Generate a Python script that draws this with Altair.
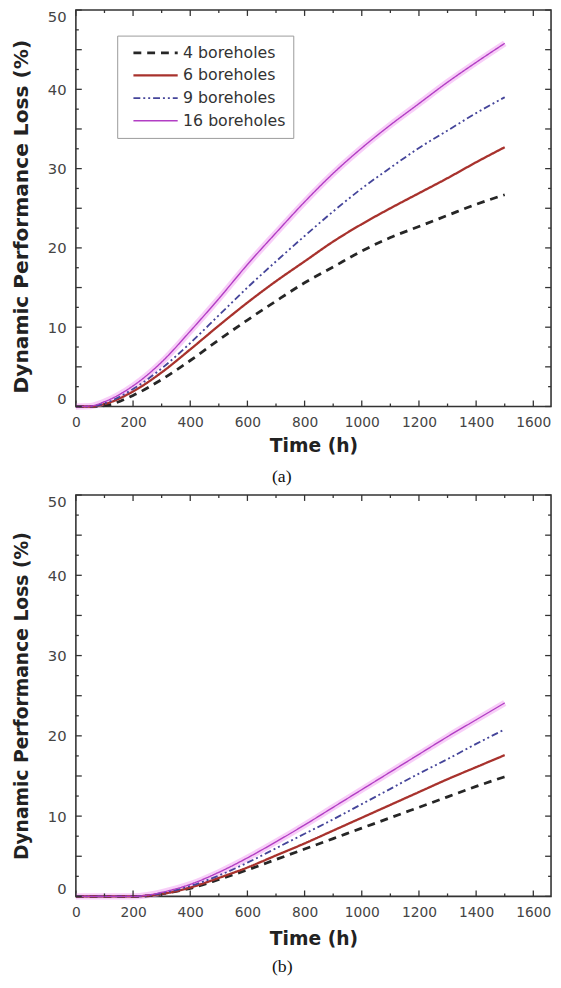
import altair as alt
import pandas as pd

SERIES = ["4 boreholes", "6 boreholes", "9 boreholes", "16 boreholes"]
COLORS = ["#262626", "#a8322d", "#45459a", "#b23ec4"]
DASHES = [[8, 6], [1, 0], [7, 3, 2, 3, 2, 3], [1, 0]]
WIDTHS = [2.8, 1.4, 2.4, 2.6]

# Panel (a)
TIME_A = [0, 50, 100, 200, 300, 400, 500, 600, 700, 800, 900, 1000, 1100, 1200, 1300, 1400, 1500]
A_4 = [0, 0, 0.1, 1.4, 3.4, 5.8, 8.4, 10.9, 13.3, 15.6, 17.6, 19.6, 21.3, 22.7, 24.1, 25.5, 26.7]
A_6 = [0, 0, 0.3, 1.9, 4.3, 7.2, 10.2, 13.1, 15.8, 18.3, 20.8, 23.0, 25.0, 26.9, 28.8, 30.8, 32.7]
A_9 = [0, 0, 0.4, 2.2, 4.8, 8.0, 11.5, 15.0, 18.3, 21.5, 24.6, 27.5, 30.1, 32.6, 34.8, 37.0, 39.0]
A_16 = [0, 0.05, 0.6, 2.6, 5.6, 9.5, 13.6, 17.9, 21.9, 25.8, 29.4, 32.6, 35.5, 38.2, 40.9, 43.4, 45.8]

# Panel (b)
TIME_B = [0, 200, 250, 300, 400, 500, 600, 700, 800, 900, 1000, 1100, 1200, 1300, 1400, 1500]
B_4 = [0, 0, 0.05, 0.3, 1.0, 2.1, 3.3, 4.6, 5.9, 7.2, 8.5, 9.8, 11.1, 12.4, 13.7, 14.9]
B_6 = [0, 0, 0.1, 0.3, 1.1, 2.3, 3.6, 5.1, 6.6, 8.2, 9.8, 11.4, 13.0, 14.6, 16.1, 17.6]
B_9 = [0, 0, 0.1, 0.4, 1.3, 2.6, 4.2, 6.0, 7.8, 9.6, 11.5, 13.4, 15.3, 17.1, 19.0, 20.8]
B_16 = [0, 0, 0.15, 0.5, 1.5, 3.0, 4.8, 6.8, 8.9, 11.1, 13.3, 15.5, 17.7, 19.9, 22.0, 24.1]

X_LABELS = [0, 200, 400, 600, 800, 1000, 1200, 1400, 1600]
Y_LABELS = [0, 10, 20, 30, 40, 50]
X_MAJOR = [0, 200, 400, 600, 800, 1000, 1200, 1400, 1600]
X_MINOR = [100, 300, 500, 700, 900, 1100, 1300, 1500]
Y_MAJOR = [0, 5, 10, 15, 20, 25, 30, 35, 40, 45, 50]
Y_MINOR = [2.5, 7.5, 12.5, 17.5, 22.5, 27.5, 32.5, 37.5, 42.5, 47.5]
X_DOMAIN = [0, 1662]
Y_DOMAIN = [0, 50]


def long_df(times, cols):
    rows = []
    for name, vals in zip(SERIES, cols):
        for t, v in zip(times, vals):
            rows.append({"t": t, "v": v, "series": name})
    return pd.DataFrame(rows)


DF_A = long_df(TIME_A, [A_4, A_6, A_9, A_16])
DF_B = long_df(TIME_B, [B_4, B_6, B_9, B_16])

FONT = "DejaVu Sans"


def panel(df, W, H, caption, lx, ly, title_shift, ytitle_size, xtitle_pad, cap_offset):
    xs = alt.Scale(domain=X_DOMAIN, nice=False, zero=False)
    ys = alt.Scale(domain=Y_DOMAIN, nice=False)
    xax = alt.Axis(title="Time (h)", values=X_LABELS, format="d", ticks=False, tickSize=0,
                   domain=False, grid=False, labelFlush=False, labelPadding=9,
                   labelFont=FONT, labelFontSize=14, labelColor="#444",
                   titleFont=FONT, titleFontSize=19, titleFontWeight="bold",
                   titleColor="#222", titlePadding=xtitle_pad)
    yax = alt.Axis(title="Dynamic Performance Loss (%)", values=Y_LABELS, ticks=False,
                   tickSize=0, domain=False, grid=False, labelFlush=True, labelPadding=10,
                   labelFont=FONT, labelFontSize=15, labelColor="#444",
                   titleFont=FONT, titleFontSize=ytitle_size, titleFontWeight="bold",
                   titleColor="#222", titlePadding=16, titleY=H / 2 + title_shift)
    x = alt.X("t:Q", scale=xs, axis=xax)
    y = alt.Y("v:Q", scale=ys, axis=yax)

    leg = alt.Legend(orient="none", legendX=lx, legendY=ly, title=None,
                     fillColor="white", strokeColor="#9a9a9a", padding=7,
                     symbolType="stroke", symbolSize=2025, symbolStrokeWidth=2.3,
                     symbolOffset=8, labelOffset=4, labelFont=FONT, labelFontSize=16,
                     labelColor="#333", clipHeight=21, rowPadding=2, labelLimit=0)

    halo = alt.Chart(df).transform_filter(
        alt.datum.series == "16 boreholes"
    ).mark_line(interpolate="monotone", color="#f3a6f3", strokeWidth=6.5, opacity=0.55).encode(
        x=x, y=y
    )

    lines = alt.Chart(df).mark_line(interpolate="monotone").encode(
        x=x, y=y,
        color=alt.Color("series:N", scale=alt.Scale(domain=SERIES, range=COLORS), legend=leg),
        strokeDash=alt.StrokeDash("series:N", scale=alt.Scale(domain=SERIES, range=DASHES), legend=leg),
        strokeWidth=alt.StrokeWidth("series:N", scale=alt.Scale(domain=SERIES, range=WIDTHS), legend=None),
    )

    xmaj = pd.DataFrame({"t": X_MAJOR})
    xmin = pd.DataFrame({"t": X_MINOR})
    ymaj = pd.DataFrame({"v": Y_MAJOR})
    ymin = pd.DataFrame({"v": Y_MINOR})
    rk = dict(color="#333", strokeWidth=1.3)
    ticks = [
        alt.Chart(xmaj).mark_rule(**rk).encode(x=x, y=alt.value(H), y2=alt.value(H - 6)),
        alt.Chart(xmaj).mark_rule(**rk).encode(x=x, y=alt.value(0), y2=alt.value(6)),
        alt.Chart(xmin).mark_rule(**rk).encode(x=x, y=alt.value(H), y2=alt.value(H - 3)),
        alt.Chart(xmin).mark_rule(**rk).encode(x=x, y=alt.value(0), y2=alt.value(3)),
        alt.Chart(ymaj).mark_rule(**rk).encode(y=y, x=alt.value(0), x2=alt.value(6)),
        alt.Chart(ymaj).mark_rule(**rk).encode(y=y, x=alt.value(W), x2=alt.value(W - 6)),
        alt.Chart(ymin).mark_rule(**rk).encode(y=y, x=alt.value(0), x2=alt.value(3)),
        alt.Chart(ymin).mark_rule(**rk).encode(y=y, x=alt.value(W), x2=alt.value(W - 3)),
    ]
    return alt.layer(halo, lines, *ticks).properties(
        width=W, height=H,
        title=alt.TitleParams(caption, orient="bottom", font="Liberation Serif", fontSize=18,
                              fontWeight="normal", color="#111", offset=cap_offset,
                              anchor="middle", frame="bounds"),
    )


pa = panel(DF_A, 483, 403, "(a)", 42, 26, 8, 20.5, 8, 13)
pb = panel(DF_B, 483, 408, "(b)", 53, 28, 0, 19, 11, 10)

chart = alt.vconcat(pa, pb, spacing=6).properties(
    padding={"left": 3, "top": -8, "right": 0, "bottom": 0},
    background="white",
).configure_view(stroke="#333", strokeWidth=1.6)

chart.save("out.html", embed_options={"renderer": "svg", "actions": False})
